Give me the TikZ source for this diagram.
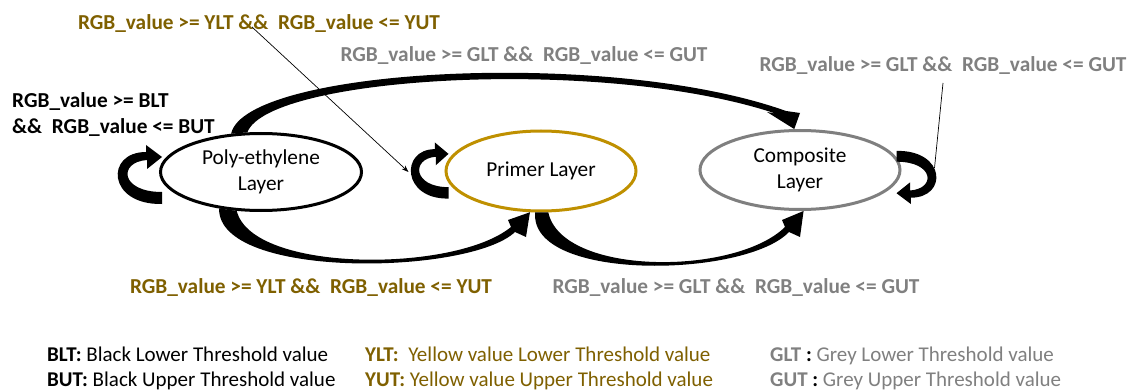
\documentclass[tikz,border=0pt]{standalone}
\usepackage{fontspec}
\setmainfont{Carlito}
\usetikzlibrary{shapes.geometric,arrows.meta,calc}
\definecolor{lblyel}{HTML}{7F6000}
\definecolor{goldline}{HTML}{BF9000}
\definecolor{lblgray}{HTML}{808080}
\definecolor{greyline}{HTML}{7F7F7F}
\tikzset{
  selfloop/.pic={
    \fill (0,29) .. controls (-55,30) and (-57,-23) .. (-16,-23) -- (-16,-30) -- (0,-18) -- (-15,-6) -- (-15,-15)
      .. controls (-44,-13) and (-42,17) .. (0,17) -- cycle;
  },
  layer/.style={ellipse, draw, line width=3pt, inner sep=0pt, align=center,
    font=\fontsize{21.3}{26}\selectfont},
  lbl/.style={anchor=base, inner sep=0pt, font=\fontsize{21.3}{26}\selectfont\bfseries},
  leg/.style={anchor=base west, inner sep=0pt, font=\fontsize{21}{25}\selectfont},
  thinarrow/.style={line width=0.7pt, -{Stealth[length=7pt,width=5pt]}},
}
\begin{document}
\begin{tikzpicture}[x=1pt,y=-1pt]
\fill[white] (0,0) rectangle (1131,390);
\useasboundingbox (0,0) rectangle (1131,390);

% layers
\node[layer, minimum width=201pt, minimum height=77pt] (poly) at (261,172) {Poly-ethylene\\Layer};
\node[layer, draw=goldline, minimum width=190pt, minimum height=80pt] (primer) at (541,171) {Primer Layer};
\node[layer, draw=greyline, minimum width=200pt, minimum height=79pt] (comp) at (800,170) {Composite\\Layer};

% labels
\node[lbl, text=lblyel] (ytop) at (259,30) {RGB\_value >= YLT \&\&~ RGB\_value <= YUT};
\node[lbl, text=lblgray] (gtop) at (524,62) {RGB\_value >= GLT \&\&~ RGB\_value <= GUT};
\node[lbl, text=lblgray] (gright) at (943,72) {RGB\_value >= GLT \&\&~ RGB\_value <= GUT};
\node[lbl, anchor=base west] (b1) at (12,108) {RGB\_value >= BLT};
\node[lbl, anchor=base west] (b2) at (12,134) {\&\&~ RGB\_value <= BUT};
\node[lbl, text=lblyel] (ybot) at (311,293) {RGB\_value >= YLT \&\&~ RGB\_value <= YUT};
\node[lbl, text=lblgray] (gbot) at (736,293) {RGB\_value >= GLT \&\&~ RGB\_value <= GUT};

% legend
\node[leg] (l1) at (47,361) {\textbf{BLT:} Black Lower Threshold value};
\node[leg] (l2) at (47,386) {\textbf{BUT:} Black Upper Threshold value};
\node[leg, text=lblyel] (l3) at (365,361) {\textbf{YLT:}~ Yellow value Lower Threshold value};
\node[leg, text=lblyel] (l4) at (365,386) {\textbf{YUT:} Yellow value Upper Threshold value};
\node[leg, text=lblgray] (l5) at (770,361) {\textbf{GLT \textcolor{black}{:}} Grey Lower Threshold value};
\node[leg, text=lblgray] (l6) at (770,386) {\textbf{GUT \textcolor{black}{:}} Grey Upper Threshold value};

% top arc: poly -> composite
\fill (poly.128) .. controls (245,68) and (610,48) .. (786,111) -- (800,113) -- (comp.98) -- (767,112) -- (777,114)
  .. controls (605,56) and (268,76) .. (poly.109) -- cycle;
% bottom arc: poly -> primer
\fill (poly.221) .. controls (218,280) and (470,275) .. (515,232) -- (526,237) -- (primer.255) -- (508,220) -- (511,227)
  .. controls (455,273) and (252,273) .. (poly.238) -- cycle;
% bottom arc: primer -> composite
\fill (primer.262) .. controls (529,282) and (745,278) .. (789,232) -- (800,237) -- (comp.275) -- (782,220) -- (785,227)
  .. controls (735,276) and (562,276) .. (primer.280) -- cycle;

% self loops
\pic at ($(poly.west)+(3,3)$) {selfloop};
\pic[xscale=0.85, yscale=0.95] at ($(primer.west)+(4,0)$) {selfloop};
\pic[rotate=180, scale=0.9] at ($(comp.east)+(-5,7)$) {selfloop};

% thin pointers
\coordinate (ys) at ($(ytop.base)+(-7,-3)$);
\coordinate (ye) at ($(primer.west)+(-36,1)$);
\draw[thinarrow] (ys) -- (ye);
\coordinate (gs) at ($(gright.base)+(0,11)$);
\coordinate (ge) at ($(comp.east)+(33,-2)$);
\draw[line width=0.7pt] (gs) -- (ge);
\end{tikzpicture}
\end{document}
